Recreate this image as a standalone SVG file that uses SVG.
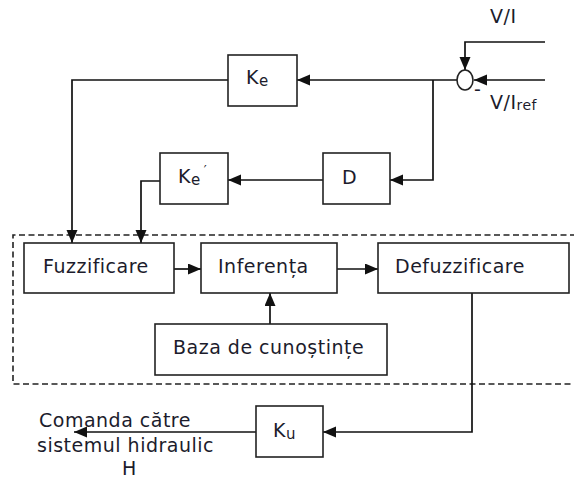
<svg xmlns="http://www.w3.org/2000/svg" width="574" height="479" viewBox="0 0 574 479">
<defs>
<marker id="arr" markerUnits="userSpaceOnUse" markerWidth="14" markerHeight="12" refX="13" refY="5.5" orient="auto">
<path d="M0,0 L13,5.5 L0,11 z" fill="#111"/>
</marker>
<style>
.box{fill:#fff;stroke:#222;stroke-width:1.6}
.t{font-family:"DejaVu Sans",Verdana,sans-serif;font-size:19px;letter-spacing:0.5px;fill:#1c1c2c}
.c{fill:none;stroke:#111;stroke-width:1.7}
.dash{fill:none;stroke:#222;stroke-width:1.6;stroke-dasharray:6 3.5}
</style>
</defs>
<rect width="574" height="479" fill="#fff"/>
<path class="dash" d="M576,235 H13 V384 H576"/>
<g id="connectors">
<path class="c" d="M545,42 H465 V70" marker-end="url(#arr)"/>
<path class="c" d="M545,80 H474" marker-end="url(#arr)"/>
<path class="c" d="M457,80 H297" marker-end="url(#arr)"/>
<path class="c" d="M433,80 V180 H390" marker-end="url(#arr)"/>
<path class="c" d="M323,180 H228" marker-end="url(#arr)" stroke="#555"/>
<path class="c" d="M228,80 H72 V243" marker-end="url(#arr)"/>
<path class="c" d="M160,181 H141 V243" marker-end="url(#arr)"/>
<path class="c" d="M174,269 H201" marker-end="url(#arr)"/>
<path class="c" d="M337,269 H378" marker-end="url(#arr)"/>
<path class="c" d="M270,324 V293" marker-end="url(#arr)"/>
<path class="c" d="M472,293 V432 H323" marker-end="url(#arr)"/>
<path class="c" d="M256,432 H74" marker-end="url(#arr)"/>
</g>
<g id="sum">
<ellipse cx="465" cy="80" rx="8" ry="10" fill="#fff" stroke="#222" stroke-width="1.6"/>
<text class="t" x="474" y="96" font-size="14">-</text>
<text class="t" x="490" y="23">V/I</text>
<text class="t" x="490" y="109">V/I<tspan font-size="14" dy="1">ref</tspan></text>
</g>
<g id="Ke">
<rect class="box" x="228" y="55" width="69" height="51"/>
<text class="t" x="246" y="84">K<tspan font-size="15" dy="2">e</tspan></text>
</g>
<g id="Ke2">
<rect class="box" x="160" y="153" width="68" height="51"/>
<text class="t" x="178" y="183">K<tspan font-size="15" dy="2">e</tspan><tspan font-size="13" dx="3" dy="-11">′</tspan></text>
</g>
<g id="D">
<rect class="box" x="323" y="153" width="67" height="51"/>
<text class="t" x="342" y="184">D</text>
</g>
<g id="fuzz">
<rect class="box" x="24" y="243" width="150" height="50"/>
<text class="t" x="43" y="273">Fuzzificare</text>
</g>
<g id="inf">
<rect class="box" x="201" y="243" width="136" height="50"/>
<text class="t" x="218" y="273">Inferența</text>
</g>
<g id="defuzz">
<rect class="box" x="378" y="243" width="191" height="50"/>
<text class="t" x="395" y="273">Defuzzificare</text>
</g>
<g id="baza">
<rect class="box" x="155" y="324" width="232" height="51"/>
<text class="t" x="173" y="354">Baza de cunoștințe</text>
</g>
<g id="Ku">
<rect class="box" x="256" y="406" width="67" height="51"/>
<text class="t" x="273" y="437">K<tspan font-size="15" dy="2">u</tspan></text>
</g>
<g id="out">
<text class="t" x="39" y="427">Comanda către</text>
<text class="t" x="37" y="452">sistemul hidraulic</text>
<text class="t" x="122" y="475">H</text>
</g>
</svg>
